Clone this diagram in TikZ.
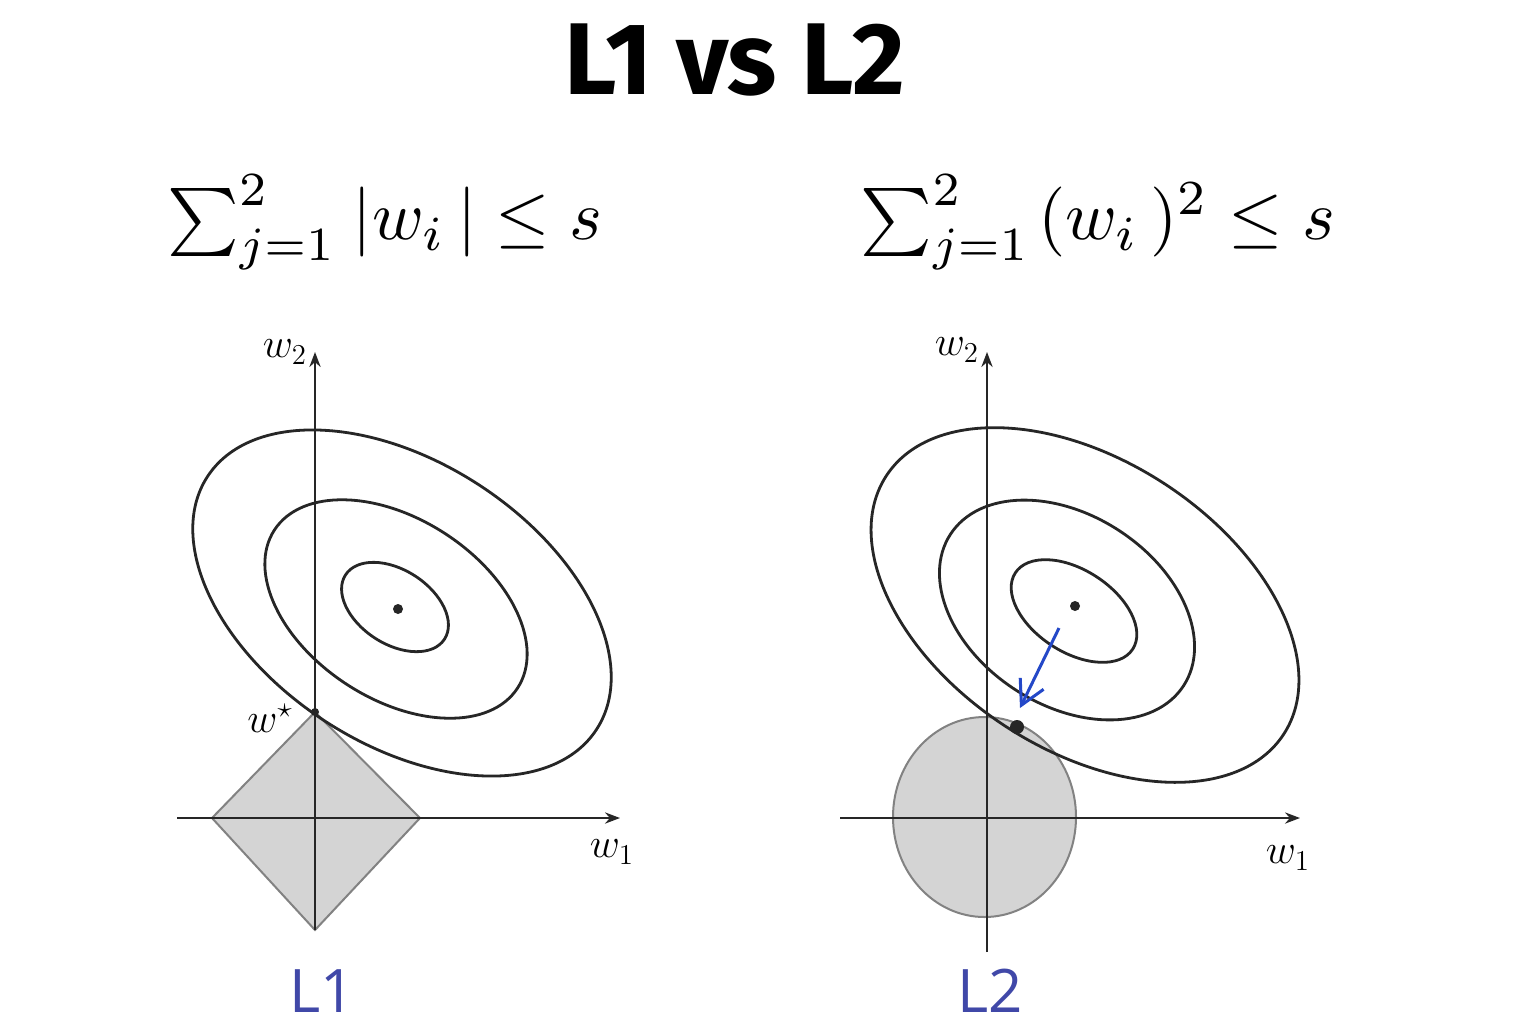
\documentclass[tikz,border=0pt]{standalone}
\usepackage{amsmath, amssymb}
\usepackage{fontspec}
\usetikzlibrary{positioning, arrows.meta}
\newfontfamily\titlefont{Fira Sans}
\newfontfamily\normfont{Open Sans}
\definecolor{normblue}{RGB}{64,72,168}
\definecolor{pathblue}{RGB}{36,72,200}
\definecolor{ballfill}{RGB}{212,212,212}
\definecolor{balledge}{RGB}{130,130,130}
% sum with its limits, blown up like the rest of the constraint
\newcommand{\sumtwo}{\scalebox{3.4}{$\sum_{j=1}^{2}$}}

\begin{document}
\begin{tikzpicture}[x=0.5pt, y=-0.5pt, >=Stealth,
    axis/.style={->, line width=1pt, black!85},
    contour/.style={line width=1.4pt, black!85},
    ball/.style={fill=ballfill, draw=balledge, line width=1pt},
    axlabel/.style={font=\fontsize{20}{22}\selectfont},
    normlabel/.style={font=\normfont\fontsize{30}{32}\selectfont, text=normblue, inner sep=0pt}]
    % page
    \fill[white] (0,0) rectangle (1536,1024);
    \useasboundingbox (0,0) rectangle (1536,1024);
    \node[font=\titlefont\bfseries\fontsize{51}{54}\selectfont] (title) at (735,60) {L1 vs L2};

    % Left panel: L1 ball is a diamond
    \node (sumL1) at (385,222)
        {\sumtwo\hspace{8pt}\scalebox{3.5}{$|w_i\,|\leq s$}};
    \coordinate (oL) at (315,818);
    \coordinate (tanL) at (315,712);
    \fill[ball] (212,818) -- (tanL) -- (420,818) -- (315,930) -- cycle;
    \draw[axis] (177,818) -- (620,818);
    \draw[axis] (315,930) -- (315,352);
    % loss contours, centred near (398,609)
    \coordinate (cL) at (398,609);
    \draw[contour, rotate around={-33:(402,603)}] (402,603) ellipse (232 and 141);
    \draw[contour, rotate around={-33:(396,609)}] (396,609) ellipse (145 and 90);
    \draw[contour, rotate around={-33:(395,607)}] (395,607) ellipse (59 and 37);
    \fill[black!85] (cL) circle (5);
    \fill[black!85] (tanL) circle (4);
    \node[axlabel] (w2L) at (285,352) {$w_2$};
    \node[axlabel] (w1L) at (612,852) {$w_1$};
    \node[font=\fontsize{21}{23}\selectfont] (wstar) at (270,718) {$w^{\star}$};
    \node[normlabel] (labL1) at (322,991) {L1};

    % Right panel: L2 ball is a disc
    \node (sumL2) at (1098,222)
        {\sumtwo\hspace{4pt}\scalebox{3.5}{$(w_i\,)^2\leq s$}};
    \coordinate (oR) at (987,818);
    \fill[ball] (984.5,817) ellipse (91.5 and 100);
    \draw[axis] (840,818) -- (1300,818);
    \draw[axis] (987,952) -- (987,352);
    \coordinate (cR) at (1075,606);
    \draw[contour, rotate around={-33:(1085,605)}] (1085,605) ellipse (237 and 145);
    \draw[contour, rotate around={-33:(1067,610)}] (1067,610) ellipse (139 and 95);
    \draw[contour, rotate around={-33:(1074,611)}] (1074,611) ellipse (70 and 41);
    \fill[black!85] (cR) circle (5);
    % shrinkage towards the tangent point
    \coordinate (arrR) at (1059,628);
    \coordinate (tipR) at (1020,708);
    \coordinate (tanR) at (1017,727);
    \draw[-{Straight Barb[length=12pt, width=13pt]}, line width=1.5pt, pathblue] (arrR) -- (tipR);
    \fill[black!85] (tanR) circle (7);
    \node[axlabel] (w2R) at (957,350) {$w_2$};
    \node[axlabel] (w1R) at (1288,858) {$w_1$};
    \node[normlabel] (labL2) at (990,991) {L2};
\end{tikzpicture}
\end{document}
